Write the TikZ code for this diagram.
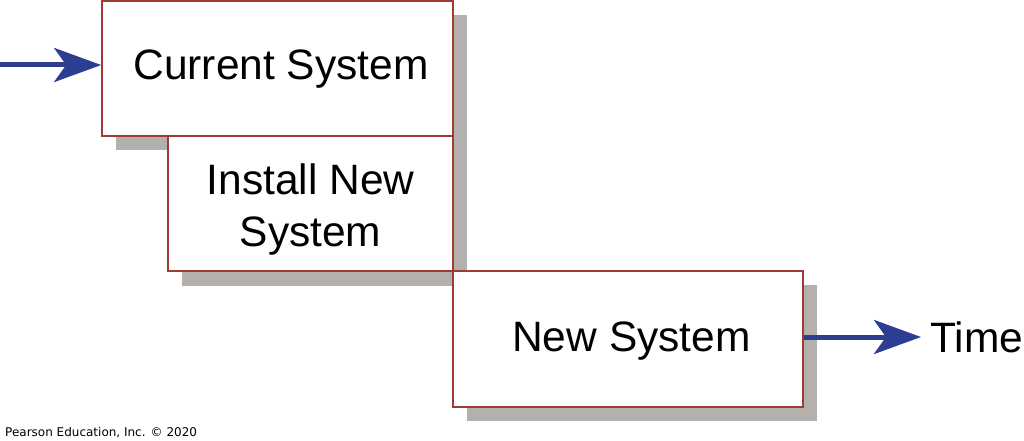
\documentclass[tikz,border=0pt]{standalone}
\usepackage{fontspec}
\setmainfont{Liberation Sans}
\newfontfamily\notefont{DejaVu Sans}
\usetikzlibrary{arrows.meta}
\definecolor{boxred}{HTML}{9E3B32}
\definecolor{shadowgray}{HTML}{B4B0AE}
\definecolor{arrowblue}{HTML}{2C3E92}
\tikzset{
  phase/.style={draw=boxred, line width=1.6pt, fill=white, inner sep=0pt},
  phasetext/.style={inner sep=0pt, font=\fontsize{42.5}{52}\selectfont, align=center},
  timearrow/.style={draw=arrowblue, line width=5pt,
    -{Stealth[length=47pt, width=34pt, inset=12pt, fill=arrowblue]}},
}
\begin{document}
\begin{tikzpicture}[x=1pt, y=-1pt]
\useasboundingbox (0,0) rectangle (1024,441);
% shadows
\fill[shadowgray] (116,15) rectangle (467,150);
\fill[shadowgray] (182,150) rectangle (467,286);
\fill[shadowgray] (467,285) rectangle (817,421);
% boxes
\node[phase, minimum width=351pt, minimum height=135pt] (cur) at (277.5,68.5) {};
\node[phase, minimum width=285pt, minimum height=135pt] (inst) at (310.5,203.5) {};
\node[phase, minimum width=350pt, minimum height=136pt] (new) at (628,339) {};
% texts
\node[phasetext] (curtext) at ([xshift=3.5pt, yshift=-1pt]cur.center) {Current System};
\node[phasetext] (insttext) at ([xshift=0pt, yshift=-6pt]inst.center) {Install New\\System};
\node[phasetext] (newtext) at ([xshift=3.5pt, yshift=-2pt]new.center) {New System};
% arrows
\coordinate (start) at (0,65);
\draw[timearrow] (start) -- (start -| cur.west);
\node[anchor=west, inner sep=0pt, font=\fontsize{42.5}{48}\selectfont] (time) at (930,337) {Time};
\coordinate (tend) at (921,337);
\draw[timearrow] (new.east |- tend) -- (tend);
\node[anchor=base west, inner sep=0pt, font=\notefont\fontsize{12}{14}\selectfont] (credit) at (5,436) {Pearson Education, Inc. © 2020};
\end{tikzpicture}
\end{document}
